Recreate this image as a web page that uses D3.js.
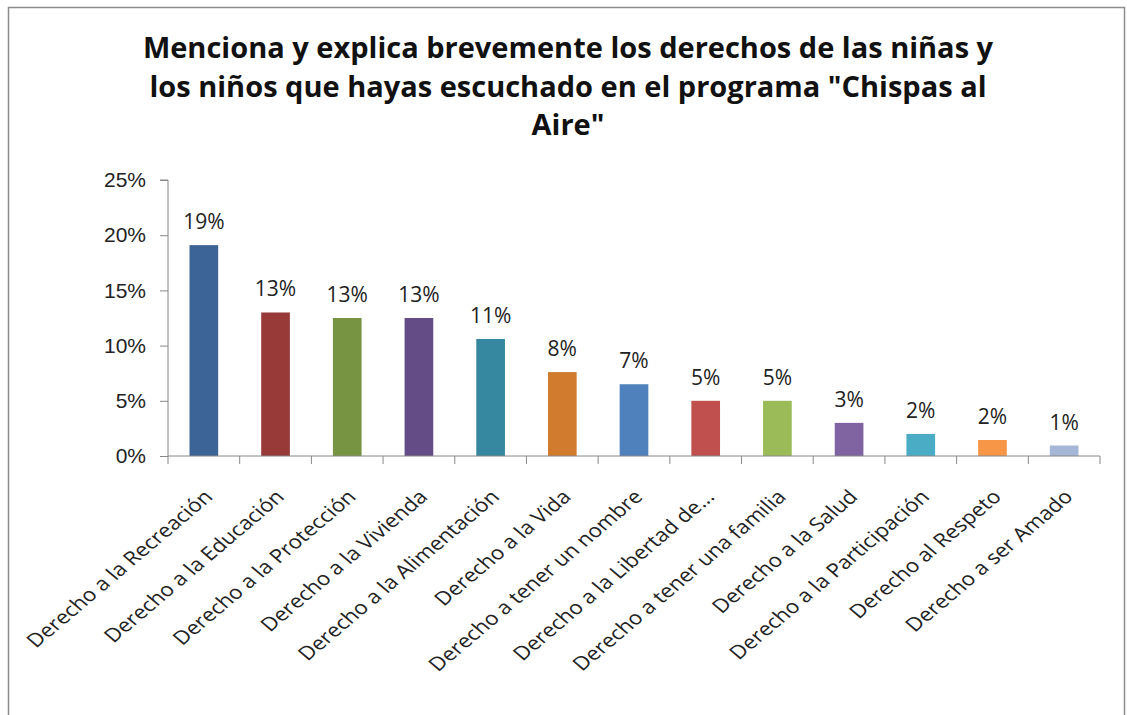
<!DOCTYPE html>
<html>
<head>
<meta charset="utf-8">
<script src="https://cdn.jsdelivr.net/npm/d3@7"></script>
<style>
  body { margin: 0; background: #fff; }
  svg { display: block; font-family: "Open Sans", "Liberation Sans", sans-serif; }
  .axis path, .axis line { stroke: #888; }
  .axis text { fill: #222; }
</style>
</head>
<body>
<div id="chart"></div>
<script>
// data
var categories = [
  "Derecho a la Recreación",
  "Derecho a la Educación",
  "Derecho a la Protección",
  "Derecho a la Vivienda",
  "Derecho a la Alimentación",
  "Derecho a la Vida",
  "Derecho a tener un nombre",
  "Derecho a la Libertad de...",
  "Derecho a tener una familia",
  "Derecho a la Salud",
  "Derecho a la Participación",
  "Derecho al Respeto",
  "Derecho a ser Amado"
];
var values = [0.191, 0.130, 0.125, 0.125, 0.106, 0.076, 0.065, 0.050, 0.050, 0.030, 0.020, 0.0145, 0.0095];
var labels = ["19%", "13%", "13%", "13%", "11%", "8%", "7%", "5%", "5%", "3%", "2%", "2%", "1%"];
var colors = ["#3c6497", "#973a38", "#779443", "#644c86", "#35889f", "#d07b2e",
              "#4f81bd", "#c0504d", "#9bbb59", "#8064a2", "#4bacc6", "#f79646", "#a5b6d6"];
var yTicks = [0, 0.05, 0.10, 0.15, 0.20, 0.25];
var titleLines = [
  "Menciona y explica brevemente los derechos de las niñas y",
  "los niños que hayas escuchado en el programa \"Chispas al",
  "Aire\""
];

window.onload = function(){
  var W = 1127, H = 715;
  var plot = {left: 168, right: 1100, top: 180, bottom: 456};

  var svg = d3.select("#chart").append("svg")
      .attr("width", W)
      .attr("height", H);

  // chart frame
  svg.append("rect")
      .attr("x", 8.5)
      .attr("y", 7.5)
      .attr("width", 1116)
      .attr("height", 720)
      .attr("fill", "#fff")
      .attr("stroke", "#8c8c8c")
      .attr("stroke-width", 1.5);

  // title
  svg.append("g").selectAll("text")
      .data(titleLines)
    .enter().append("text")
      .attr("x", 568)
      .attr("y", function(d, i){ return 58 + i * 38.5; })
      .attr("text-anchor", "middle")
      .attr("font-size", 29)
      .attr("font-weight", "bold")
      .attr("fill", "#111")
      .text(function(d){ return d; });

  var x = d3.scaleBand()
      .domain(categories)
      .range([plot.left, plot.right])
      .paddingInner(0.6)
      .paddingOuter(0.3);

  var y = d3.scaleLinear()
      .domain([0, 0.25])
      .range([plot.bottom, plot.top]);

  // y axis
  var yAxis = d3.axisLeft(y)
      .tickValues(yTicks)
      .tickFormat(d3.format(".0%"))
      .tickSize(8)
      .tickPadding(14);

  var gy = svg.append("g")
      .attr("class", "axis")
      .attr("transform", "translate(" + plot.left + ",0)")
      .call(yAxis);
  gy.selectAll("text").attr("font-size", 21);
  gy.select(".domain").attr("d", "M-8," + y(0.25) + "H0V" + y(0));

  // bars
  svg.append("g").selectAll("rect")
      .data(values)
    .enter().append("rect")
      .attr("x", function(d, i){ return x(categories[i]); })
      .attr("y", function(d){ return y(d); })
      .attr("width", x.bandwidth())
      .attr("height", function(d){ return y(0) - y(d); })
      .attr("fill", function(d, i){ return colors[i]; });

  // value labels
  svg.append("g").selectAll("text")
      .data(values)
    .enter().append("text")
      .attr("x", function(d, i){ return x(categories[i]) + x.bandwidth() / 2; })
      .attr("y", function(d){ return y(d) - 16; })
      .attr("text-anchor", "middle")
      .attr("font-size", 21)
      .attr("fill", "#222")
      .text(function(d, i){ return labels[i]; });

  // x axis: line plus ticks at category boundaries
  var step = x.step();
  var bounds = d3.range(categories.length + 1).map(function(i){ return plot.left + i * step; });
  var gx = svg.append("g").attr("class", "axis");
  gx.append("line")
      .attr("x1", plot.left).attr("x2", plot.right)
      .attr("y1", plot.bottom).attr("y2", plot.bottom);
  gx.selectAll("line.tick")
      .data(bounds)
    .enter().append("line")
      .attr("class", "tick")
      .attr("x1", function(d){ return d; }).attr("x2", function(d){ return d; })
      .attr("y1", plot.bottom).attr("y2", plot.bottom + 8);

  // rotated category labels (the source picture is stretched sideways a little)
  gx.selectAll("text")
      .data(categories)
    .enter().append("text")
      .attr("transform", function(d){
        return "translate(" + (x(d) + x.bandwidth() / 2 + 10) + "," + (plot.bottom + 42) + ") scale(1.18,1) rotate(-45)";
      })
      .attr("text-anchor", "end")
      .attr("font-size", 19)
      .text(function(d){ return d; });
};
</script>
</body>
</html>
